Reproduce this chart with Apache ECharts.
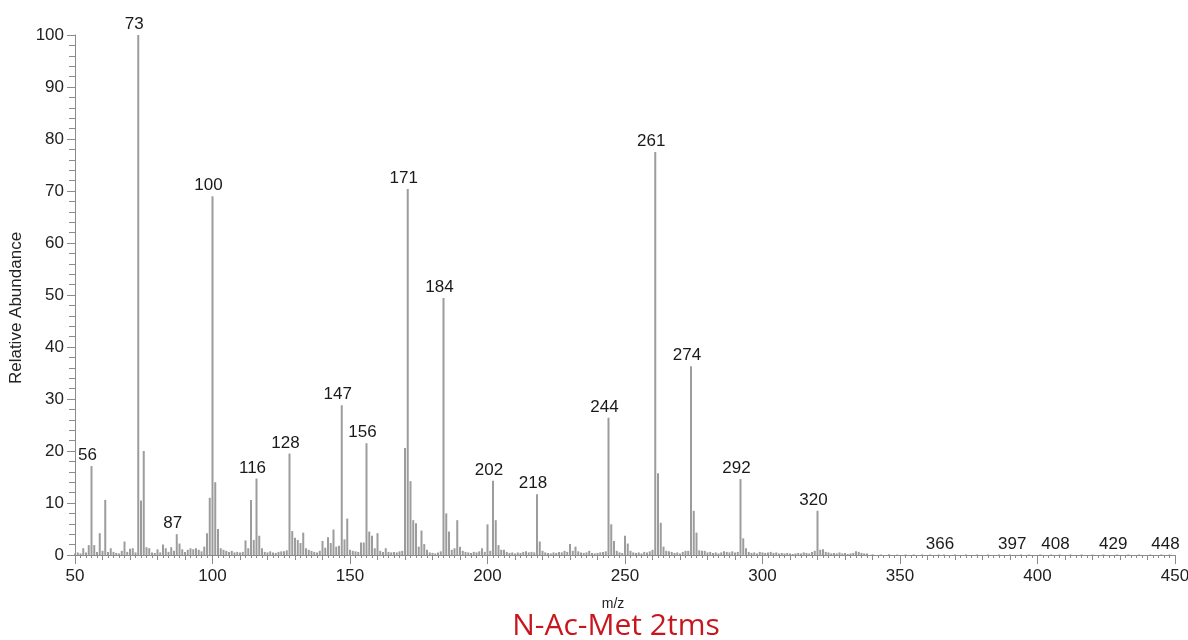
<!DOCTYPE html>
<html>
<head>
<meta charset="utf-8">
<script src="https://cdn.jsdelivr.net/npm/echarts@6/dist/echarts.min.js"></script>
<style>
  html, body { margin: 0; padding: 0; background: #ffffff; }
  #chart { width: 1188px; height: 640px; }
</style>
</head>
<body>
<div id="chart"></div>
<script>
// ---- data ----
const mz = [
  50,51,52,53,54,55,56,57,58,59,60,61,62,63,64,65,66,67,68,69,70,71,72,73,74,75,76,77,78,79,
  80,81,82,83,84,85,86,87,88,89,90,91,92,93,94,95,96,97,98,99,100,101,102,103,104,105,106,107,108,109,
  110,111,112,113,114,115,116,117,118,119,120,121,122,123,124,125,126,127,128,129,130,131,132,133,134,135,136,137,138,139,
  140,141,142,143,144,145,146,147,148,149,150,151,152,153,154,155,156,157,158,159,160,161,162,163,164,165,166,167,168,169,
  170,171,172,173,174,175,176,177,178,179,180,181,182,183,184,185,186,187,188,189,190,191,192,193,194,195,196,197,198,199,
  200,201,202,203,204,205,206,207,208,209,210,211,212,213,214,215,216,217,218,219,220,221,222,223,224,225,226,227,228,229,
  230,231,232,233,234,235,236,237,238,239,240,241,242,243,244,245,246,247,248,249,250,251,252,253,254,255,256,257,258,259,
  260,261,262,263,264,265,266,267,268,269,270,271,272,273,274,275,276,277,278,279,280,281,282,283,284,285,286,287,288,289,
  290,291,292,293,294,295,296,297,298,299,300,301,302,303,304,305,306,307,308,309,310,311,312,313,314,315,316,317,318,319,
  320,321,322,323,324,325,326,327,328,329,330,331,332,333,334,335,336,337,338,340,343,346,349,352,355,358,361,364,366,370,
  374,378,382,386,390,394,397,401,405,408,412,416,420,424,429,433,437,441,445,448
];
const abundance = [
  0.3,0.5,0.3,1.3,0.5,1.9,17.1,1.9,0.6,4.2,0.8,10.6,0.6,1.3,0.6,0.4,0.3,0.8,2.6,0.6,1.2,1.3,0.5,100,10.5,20,1.5,1.3,0.5,0.4,
  1.1,0.5,2.0,1.3,0.6,1.5,0.8,4.0,2.2,1.1,0.6,1.0,1.3,1.1,1.3,1.0,0.7,1.6,4.2,11,69,14,5,1.3,1.0,0.8,0.6,0.8,0.5,0.6,
  0.5,0.6,2.8,1.3,10.6,2.9,14.7,3.7,1.3,0.6,0.5,0.7,0.5,0.4,0.6,0.7,0.7,0.9,19.5,4.6,3.3,2.9,2.3,4.3,1.3,1.0,0.8,0.6,0.5,0.8,
  2.7,1.4,3.4,2.3,4.9,1.6,1.8,28.8,3.0,7.0,1.0,0.8,0.7,0.6,2.4,2.4,21.5,4.5,3.7,1.3,4.2,0.8,0.6,1.3,0.6,0.5,0.6,0.5,0.7,0.8,
  20.6,70.4,14.2,6.7,6.1,1.6,4.7,2.1,1.0,0.5,0.4,0.3,0.5,0.7,49.4,8.0,4.5,1.0,1.3,6.7,1.6,0.8,0.6,0.5,0.4,0.6,0.5,0.7,1.3,0.6,
  5.9,0.8,14.3,6.7,1.9,1.0,1.0,0.6,0.4,0.5,0.3,0.5,0.4,0.6,0.7,0.5,0.6,0.5,11.7,2.6,0.8,0.5,0.4,0.3,0.5,0.4,0.6,0.5,0.8,0.6,
  2.1,0.8,1.6,0.7,0.5,0.4,0.5,0.8,0.4,0.3,0.4,0.5,0.6,0.7,26.4,5.9,2.7,0.8,0.5,0.4,3.7,2.2,0.8,0.5,0.4,0.5,0.3,0.6,0.5,0.7,
  1.0,77.5,15.7,6.2,1.6,0.8,0.7,0.6,0.4,0.5,0.3,0.6,0.8,0.8,36.3,8.5,4.3,0.9,0.8,0.8,0.5,0.6,0.4,0.5,0.3,0.5,0.7,0.6,0.5,0.7,
  0.5,0.6,14.6,3.2,1.3,0.6,0.4,0.5,0.3,0.6,0.5,0.4,0.5,0.6,0.4,0.5,0.3,0.4,0.3,0.4,0.3,0.2,0.3,0.4,0.3,0.5,0.4,0.3,0.6,0.8,
  8.5,1.0,1.1,0.6,0.5,0.3,0.4,0.3,0.5,0.3,0.4,0.2,0.3,0.4,0.7,0.6,0.4,0.3,0.3,0.15,0.1,0.15,0.1,0.1,0.1,0.1,0.1,0.1,0.1,0.1,
  0.1,0.1,0.1,0.1,0.1,0.1,0.1,0.1,0.1,0.1,0.1,0.1,0.1,0.1,0.1,0.1,0.1,0.1,0.1,0.1
];
const labeledPeaks = [56,73,87,100,116,128,147,156,171,184,202,218,244,261,274,292,320,366,397,408,429,448];
const xTickLabels = [50,100,150,200,250,300,350,400,450];
const chartTitle = 'N-Ac-Met 2tms';
const xName = 'm/z';
const yName = 'Relative Abundance';

// ---- styling (not data) ----
const labelShift = { 397: -17 };
const FONT = '"Liberation Sans", Arial, sans-serif';

const seriesData = mz.map((m, i) => {
  const item = { value: [m, abundance[i]] };
  if (labeledPeaks.indexOf(m) >= 0) {
    item.label = {
      show: true,
      position: 'top',
      distance: 2,
      formatter: String(m),
      offset: [labelShift[m] !== undefined ? labelShift[m] : -4, 0]
    };
  }
  return item;
});

const chart = echarts.init(document.getElementById('chart'), null, { renderer: 'canvas' });
chart.setOption({
  backgroundColor: '#ffffff',
  animation: false,
  title: {
    text: chartTitle,
    left: 611,
    top: 606,
    textAlign: 'center',
    textStyle: { color: '#c8161e', fontSize: 30, fontWeight: 'normal', fontFamily: '"Open Sans", "Noto Sans", sans-serif' }
  },
  grid: { left: 75, right: 13, top: 35, bottom: 85, containLabel: false, outerBoundsMode: 'none' },
  xAxis: [
    {
      type: 'value', min: 50, max: 450, interval: 10,
      name: xName, nameLocation: 'middle', nameGap: 42,
      nameTextStyle: { fontSize: 14, color: '#222', fontFamily: FONT, padding: [0, 24, 0, 0] },
      axisLine: { show: true, lineStyle: { color: '#8a8a8a', width: 1 } },
      axisTick: { show: true, length: 5, lineStyle: { color: '#8a8a8a' } },
      minorTick: { show: true, splitNumber: 5, length: 3, lineStyle: { color: '#8a8a8a' } },
      axisLabel: { show: false },
      splitLine: { show: false }
    },
    {
      type: 'value', min: 50, max: 450, interval: 50, position: 'bottom',
      axisLine: { show: false },
      axisTick: { show: true, length: 9, lineStyle: { color: '#8a8a8a' } },
      axisLabel: {
        show: true, margin: 13, fontSize: 17, color: '#222', fontFamily: FONT,
        formatter: v => (xTickLabels.indexOf(v) >= 0 ? String(v) : '')
      },
      splitLine: { show: false }
    }
  ],
  yAxis: {
    type: 'value', min: 0, max: 100, interval: 10,
    name: yName, nameLocation: 'middle', nameGap: 49, nameRotate: 90,
    nameTextStyle: { fontSize: 17, color: '#222', fontFamily: FONT, padding: [0, 26, 0, 0] },
    axisLine: { show: true, lineStyle: { color: '#8a8a8a', width: 1 } },
    axisTick: { show: true, length: 8, lineStyle: { color: '#8a8a8a' } },
    minorTick: { show: true, splitNumber: 5, length: 6, lineStyle: { color: '#8a8a8a' } },
    axisLabel: { margin: 11, fontSize: 17, color: '#222', fontFamily: FONT },
    splitLine: { show: false }
  },
  series: [{
    type: 'bar',
    xAxisIndex: 0,
    barWidth: 2,
    itemStyle: { color: '#9c9c9c' },
    label: { show: false, color: '#1a1a1a', fontSize: 17, fontFamily: FONT },
    data: seriesData
  }]
});
</script>
</body>
</html>
